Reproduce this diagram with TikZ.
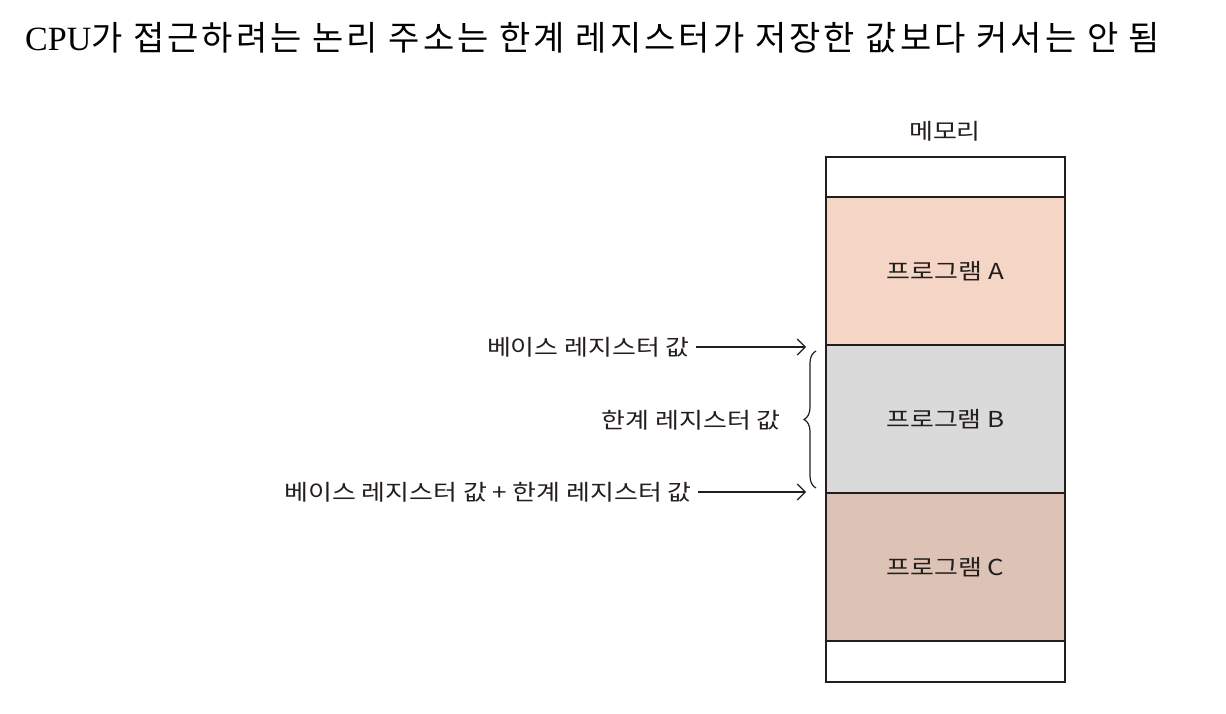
\documentclass[tikz,border=0pt]{standalone}
\usepackage{fontspec}
\setmainfont{Liberation Serif}
\newfontfamily\kr{Noto Sans CJK KR}[FakeStretch=1.18]
\newfontfamily\krt{Noto Sans CJK KR}[LetterSpace=9]
\usetikzlibrary{arrows.meta,decorations.pathreplacing}
\definecolor{progA}{RGB}{245,213,198}
\definecolor{progB}{RGB}{218,218,218}
\definecolor{progC}{RGB}{221,195,181}
\definecolor{ink}{RGB}{35,30,28}
\tikzset{
  cell/.style={draw=ink, line width=1.4pt, minimum width=239pt, inner sep=0pt, outer sep=0pt},
  lbl/.style={font=\kr\fontsize{22}{26}\selectfont, text=ink, inner sep=0pt},
  arr/.style={draw=ink, line width=1.2pt, -{Straight Barb[length=8pt,width=16pt]}}
}
\begin{document}
\begin{tikzpicture}[x=1pt,y=-1pt]
\useasboundingbox[fill=white] (0,0) rectangle (1226,714);
\node[anchor=west, inner sep=0pt, font=\fontsize{34}{38}\selectfont] (title) at (25,38)
  {CPU{\krt 가 접근하려는 논리 주소는 한계 레지스터가 저장한 값보다 커서는 안 됨}};
\node[cell, fill=white, minimum height=40pt, anchor=north west] (top) at (826,157) {};
\node[cell, fill=progA, minimum height=148pt, anchor=north] (A) at (top.south) {};
\node[cell, fill=progB, minimum height=148pt, anchor=north] (B) at (A.south) {};
\node[cell, fill=progC, minimum height=148pt, anchor=north] (C) at (B.south) {};
\node[cell, fill=white, minimum height=41pt, anchor=north] (bot) at (C.south) {};
\node[lbl] (mem) at (945,131) {메모리};
\node[lbl] at (A.center) {프로그램 A};
\node[lbl] at (B.center) {프로그램 B};
\node[lbl] at (C.center) {프로그램 C};
\node[lbl, anchor=east] (base) at (690,347) {베이스 레지스터 값};
\node[lbl, anchor=east] (limit) at (781,420) {한계 레지스터 값};
\node[lbl, anchor=east] (sum) at (692,492) {베이스 레지스터 값 + 한계 레지스터 값};
\coordinate (bt) at (806,347);
\coordinate (st) at (806,492);
\draw[arr] (base.east) ++(6,0) -- (bt);
\draw[arr] (sum.east) ++(6,0) -- (st);
\draw[draw=ink, line width=1.2pt, decorate, decoration={brace, amplitude=12pt}] (816,488) -- (816,351);
\end{tikzpicture}
\end{document}
